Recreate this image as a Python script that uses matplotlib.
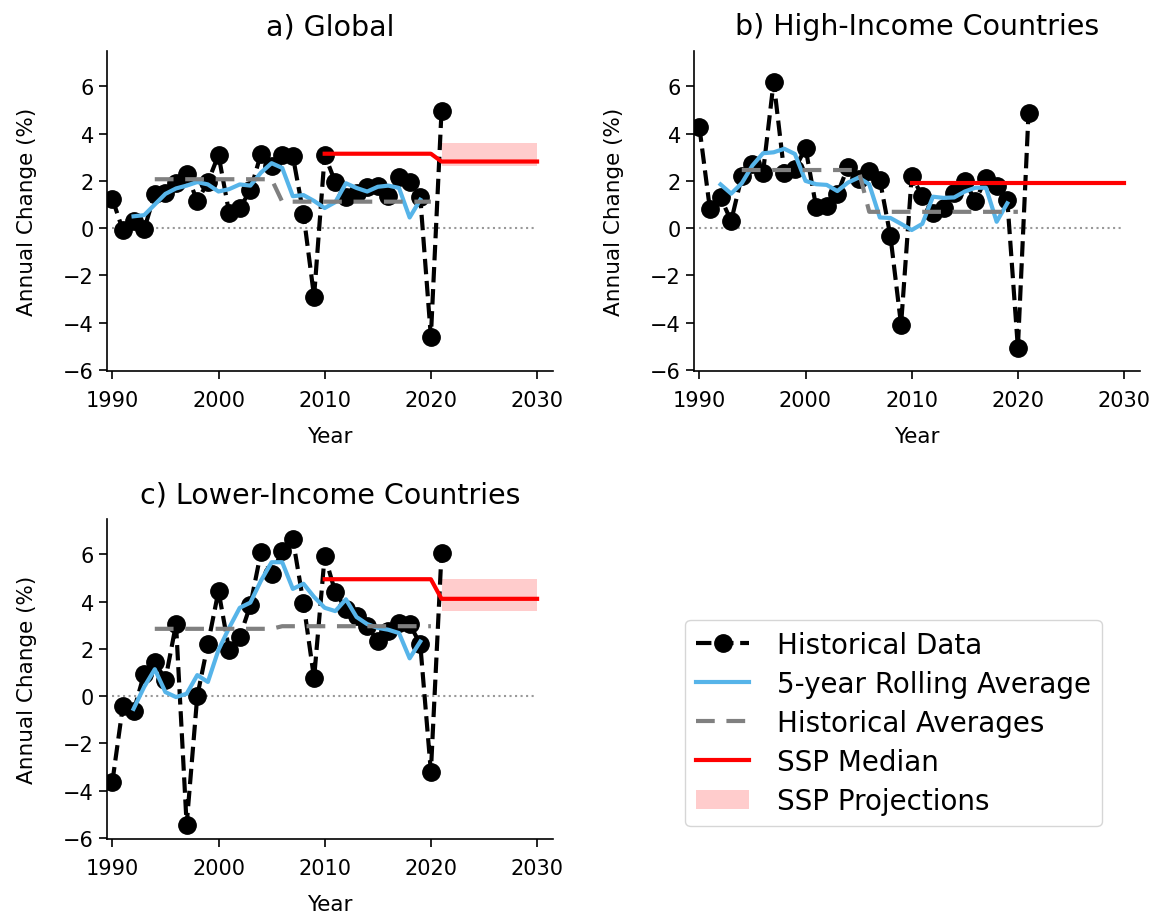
import matplotlib
matplotlib.use("Agg")
import matplotlib.pyplot as plt
import numpy as np

# historical annual change (%), 1990-2021
years = np.arange(1990, 2022)

global_hist = [1.25, -0.1, 0.3, -0.05, 1.45, 1.5, 1.9, 2.3, 1.15, 1.95,
               3.1, 0.65, 0.85, 1.6, 3.15, 2.65, 3.1, 3.05, 0.6, -2.9,
               3.1, 1.95, 1.3, 1.5, 1.75, 1.8, 1.35, 2.15, 1.95, 1.3,
               -4.6, 4.95]
high_hist = [4.3, 0.8, 1.3, 0.3, 2.2, 2.7, 2.35, 6.2, 2.35, 2.5,
             3.4, 0.9, 0.95, 1.45, 2.6, 2.1, 2.4, 2.05, -0.35, -4.1,
             2.2, 1.36, 0.64, 0.86, 1.5, 2.0, 1.14, 2.14, 1.79, 1.21,
             -5.07, 4.86]
low_hist = [-3.65, -0.4, -0.65, 0.95, 1.45, 0.7, 3.05, -5.45, 0.0, 2.2,
            4.45, 1.95, 2.5, 3.85, 6.1, 5.15, 6.15, 6.65, 3.95, 0.75,
            5.95, 4.4, 3.7, 3.4, 2.95, 2.35, 2.75, 3.1, 3.05, 2.2,
            -3.2, 6.05]

# 5-year rolling average, 1992-2019
roll_years = np.arange(1992, 2020)
global_roll = [0.5, 0.55, 1.0, 1.45, 1.68, 1.8, 1.95, 1.85, 1.55, 1.65,
               1.85, 1.8, 2.35, 2.75, 2.55, 1.35, 1.4, 1.15, 0.85, 1.1,
               1.9, 1.7, 1.55, 1.75, 1.8, 1.7, 0.45, 1.2]
high_roll = [1.85, 1.46, 1.9, 2.65, 3.17, 3.21, 3.36, 3.14, 2.0, 1.86,
             1.83, 1.57, 1.93, 2.14, 1.86, 0.45, 0.43, 0.18, -0.08, 0.18,
             1.33, 1.28, 1.3, 1.55, 1.71, 1.71, 0.27, 1.05]
low_roll = [-0.54, 0.39, 1.14, 0.17, -0.04, 0.1, 0.89, 0.6, 1.96, 2.89,
            3.74, 3.96, 4.89, 5.67, 5.67, 4.54, 4.76, 4.2, 3.74, 3.6,
            4.1, 3.35, 3.05, 2.89, 2.81, 2.67, 1.6, 2.31]

# historical period averages (1994-2005, 2006-2020)
avg_years = np.arange(1994, 2021)
period_split = 2005
global_avgs = [2.07, 1.12]
high_avgs = [2.46, 0.69]
low_avgs = [2.85, 2.96]

# SSP median and projection range
ssp_years = [2010, 2020, 2021, 2030]
global_ssp = [3.15, 3.15, 2.82, 2.82]
high_ssp = [1.92, 1.92, 1.92, 1.92]
low_ssp = [4.95, 4.95, 4.12, 4.12]

band_years = [2021, 2030]
global_band = (2.65, 3.62)
high_band = (1.86, 1.97)
low_band = (3.62, 4.95)

panels = [
    ("a) Global", global_hist, global_roll, global_avgs, global_ssp, global_band),
    ("b) High-Income Countries", high_hist, high_roll, high_avgs, high_ssp, high_band),
    ("c) Lower-Income Countries", low_hist, low_roll, low_avgs, low_ssp, low_band),
]

W, H = 1168, 920
fig = plt.figure(figsize=(W / 100, H / 100), dpi=100)
boxes = [(107, 52, 553, 372), (694, 52, 1140, 372), (107, 520, 553, 840)]

for (title, hist, roll, avgs, ssp, band), (l, t, r, b) in zip(panels, boxes):
    ax = fig.add_axes([l / W, 1 - b / H, (r - l) / W, (b - t) / H])
    ax.hlines(0, 1990, 2030, colors='gray', linestyles=':', lw=1.5, alpha=0.8)
    ax.plot(years, hist, 'o--', color='black', lw=3, ms=12.5,
            label='Historical Data')
    ax.plot(roll_years, roll, color='#56B4E9', lw=3,
            label='5-year Rolling Average')
    avg_line = np.where(avg_years <= period_split, avgs[0], avgs[1])
    ax.plot(avg_years, avg_line, color='gray', lw=3, dashes=(4.5, 2.8),
            label='Historical Averages')
    ax.plot(ssp_years, ssp, color='red', lw=3, label='SSP Median')
    ax.fill_between(band_years, band[0], band[1], color='red', alpha=0.2,
                    lw=0, label='SSP Projections')

    ax.set_xlim(1989.5, 2031.5)
    ax.set_ylim(-6.05, 7.5)
    ax.set_xticks([1990, 2000, 2010, 2020, 2030])
    ax.set_yticks([-6, -4, -2, 0, 2, 4, 6])
    ax.tick_params(labelsize=15, width=1.2, length=6)
    ax.tick_params(axis='x', pad=8)
    ax.spines['top'].set_visible(False)
    ax.spines['right'].set_visible(False)
    ax.spines['left'].set_linewidth(1.2)
    ax.spines['bottom'].set_linewidth(1.2)
    ax.set_title(title, fontsize=20.5, pad=12)
    ax.set_xlabel('Year', fontsize=15.5, labelpad=11)
    ax.set_ylabel('Annual Change (%)', fontsize=15.5, labelpad=19)

handles, labels = ax.get_legend_handles_labels()
fig.legend(handles, labels, loc='center', bbox_to_anchor=(0.765, 0.213),
           fontsize=20, frameon=True, handlelength=1.9, handletextpad=1.0,
           labelspacing=0.4)

fig.savefig('out.png', dpi=100)
